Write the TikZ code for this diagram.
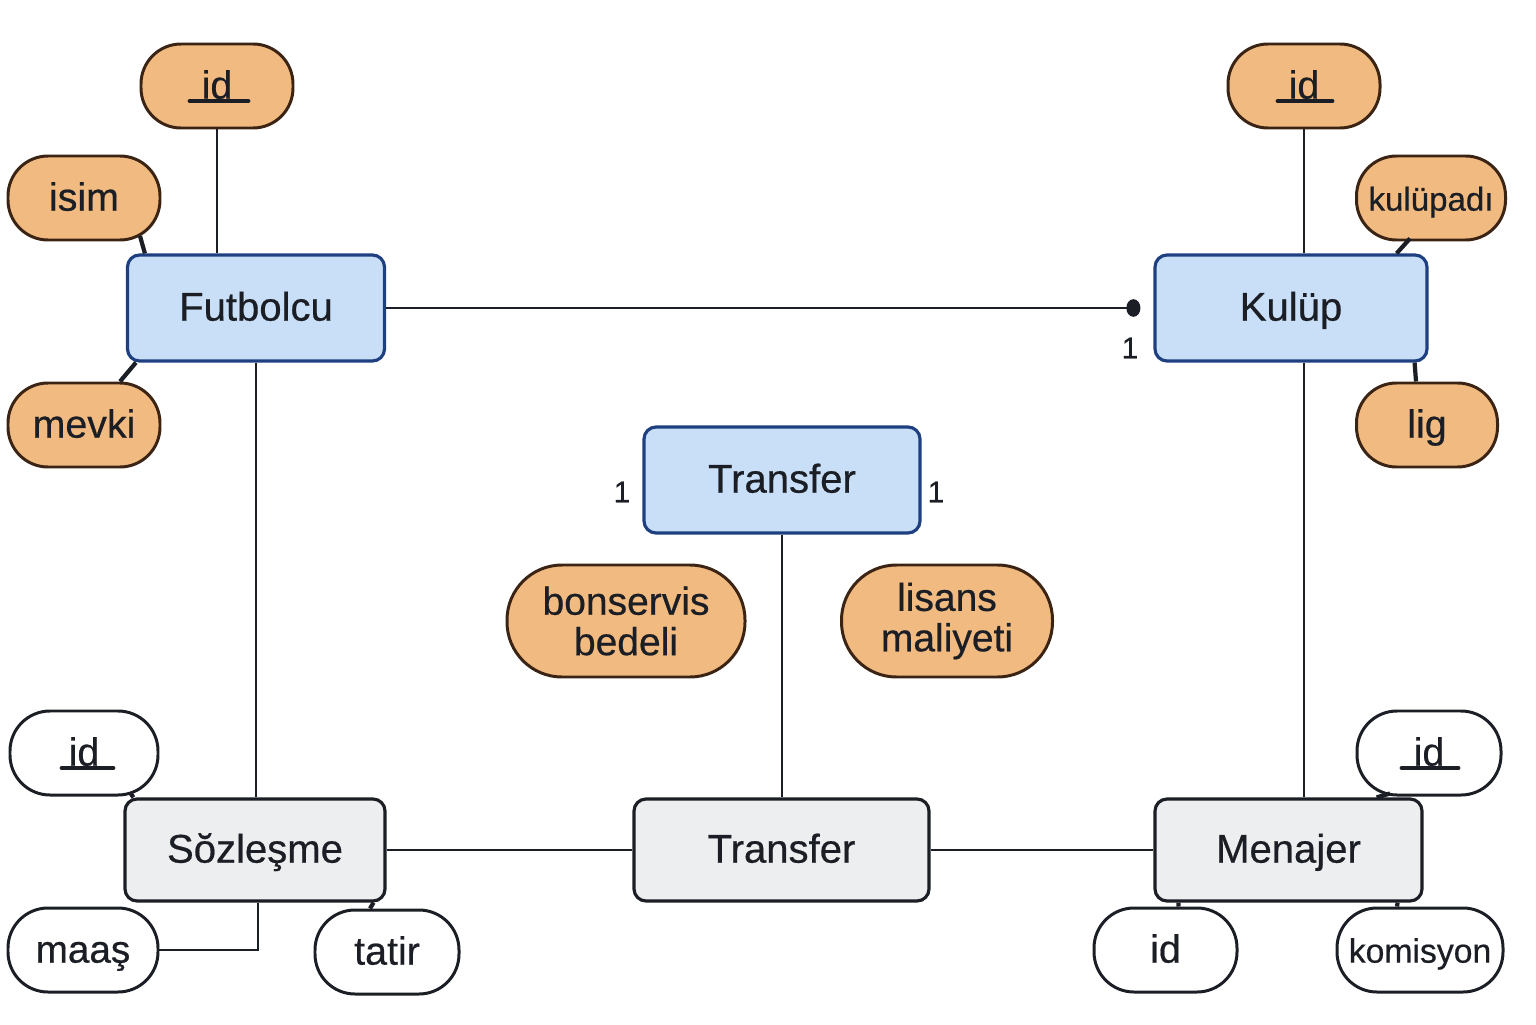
\documentclass[tikz,border=0pt]{standalone}
\usepackage{fontspec}
\setmainfont{Liberation Sans}[FakeBold=0.5]
\usetikzlibrary{arrows.meta}
\definecolor{attrfill}{HTML}{F0BA80}
\definecolor{attrdraw}{HTML}{3B2414}
\definecolor{entfill}{HTML}{C9DFF8}
\definecolor{entdraw}{HTML}{1F4080}
\definecolor{grayfill}{HTML}{EDEEF0}
\definecolor{inkcol}{HTML}{1B1E24}

\begin{document}
\begin{tikzpicture}[
  oneline/.style={text height=0.72em,text depth=0pt},
  entity/.style={draw=entdraw,fill=entfill,line width=0.9pt,rounded corners=0.12cm,minimum height=1.06cm,text=inkcol,oneline,font=\fontsize{11.4}{13}\selectfont},
  grayent/.style={draw=inkcol,fill=grayfill,line width=0.9pt,rounded corners=0.12cm,minimum height=1.02cm,text=inkcol,oneline,font=\fontsize{11.4}{13}\selectfont},
  attr/.style={draw=attrdraw,fill=attrfill,line width=0.85pt,rounded corners=0.4cm,inner sep=2pt,minimum width=1.52cm,minimum height=0.84cm,text=inkcol,oneline,font=\fontsize{11.2}{13}\selectfont},
  twoline/.style={text height=,text depth=,align=center,minimum height=1.12cm,rounded corners=0.55cm,font=\fontsize{11.1}{11.5}\selectfont},
  wattr/.style={attr,draw=inkcol,fill=white},
  link/.style={draw=inkcol,line width=0.7pt},
  stub/.style={draw=inkcol,line width=1.2pt},
  uline/.style={draw=inkcol,line width=1.4pt,line cap=round},
  card/.style={text=inkcol,font=\fontsize{8.5}{10}\selectfont}
]
  \useasboundingbox (0,0) rectangle (15.36,10.24);

  \node[entity,minimum width=2.57cm] (fut) at (2.56,7.16) {Futbolcu};
  \node[entity,minimum width=2.72cm] (kul) at (12.91,7.16) {Kulüp};
  \node[entity,minimum width=2.76cm] (trA) at (7.82,5.44) {Transfer};
  \node[grayent,minimum width=2.60cm] (soz) at (2.55,1.74) {Sŏzleşme};
  \node[grayent,minimum width=2.95cm] (trB) at (7.815,1.74) {Transfer};
  \node[grayent,minimum width=2.67cm] (men) at (12.885,1.74) {Menajer};

  \node[attr] (fid) at (2.17,9.38) {id};
  \node[attr] (isim) at (0.84,8.26) {isim};
  \node[attr] (mevki) at (0.84,5.99) {mevki};
  \node[attr] (kid) at (13.04,9.38) {id};
  \node[attr,minimum width=1.49cm,font=\fontsize{9.4}{11}\selectfont] (kadi) at (14.31,8.26) {kulüpadı};
  \node[attr,minimum width=1.41cm] (lig) at (14.27,5.99) {lig};
  \node[attr,twoline,minimum width=2.38cm] (bons) at (6.26,4.03) {bonservis\\bedeli};
  \node[attr,twoline,minimum width=2.11cm] (lis) at (9.47,4.03) {lisans\\maliyeti};

  \node[wattr,minimum width=1.48cm] (sid) at (0.84,2.71) {id};
  \node[wattr,minimum width=1.50cm,font=\fontsize{11}{13}\selectfont] (maas) at (0.83,0.74) {maaş};
  \node[wattr,minimum width=1.44cm] (tatir) at (3.87,0.72) {tatir};
  \node[wattr,minimum width=1.44cm] (mid) at (14.29,2.71) {id};
  \node[wattr,minimum width=1.43cm] (mid2) at (11.655,0.74) {id};
  \node[wattr,minimum width=1.66cm,inner sep=1pt,font=\fontsize{9.6}{11}\selectfont] (kom) at (14.20,0.74) {komisyon};

  \draw[uline] ([xshift=-0.27cm,yshift=-0.15cm]fid.center) -- ++(0.58,0);
  \draw[uline] ([xshift=-0.26cm,yshift=-0.15cm]kid.center) -- ++(0.54,0);
  \draw[uline] ([xshift=-0.22cm,yshift=-0.15cm]sid.center) -- ++(0.51,0);
  \draw[uline] ([xshift=-0.27cm,yshift=-0.15cm]mid.center) -- ++(0.56,0);

  \draw[link] (fid.south) -- (fid.south |- fut.north);
  \draw[link] (kid.south) -- (kid.south |- kul.north);
  \draw[link,-{Circle[length=4pt,width=5pt]}] (fut.east) -- ([xshift=-0.13cm]kul.west);
  \draw[link] (fut.south) -- (fut.south |- soz.north);
  \draw[link] (kid.south |- kul.south) -- (kid.south |- men.north);
  \draw[link] (trA.south) -- (trA.south |- trB.north);
  \draw[link] (soz.east) -- (trB.west);
  \draw[link] (trB.east) -- (men.west);
  \draw[link] (maas.east) -| ([xshift=0.03cm]soz.south);

  \draw[stub] ([xshift=0.56cm,yshift=-0.38cm]isim.center) -- ([xshift=0.19cm]fut.north west);
  \draw[stub] ([xshift=0.36cm]mevki.north) -- ([xshift=0.10cm]fut.south west);
  \draw[stub] ([xshift=-0.21cm,yshift=0.03cm]kadi.south) -- ([xshift=-0.32cm]kul.north east);
  \draw[stub] ([xshift=-0.14cm]kul.south east) -- ([xshift=-0.11cm]lig.north);
  \draw[stub] ([xshift=0.46cm,yshift=0.04cm]sid.south) -- ([xshift=0.10cm]soz.north west);
  \draw[stub] ([xshift=-0.13cm]soz.south east) -- ([xshift=-0.17cm]tatir.north);
  \draw[stub] ([xshift=-0.39cm,yshift=0.03cm]mid.south) -- ([xshift=-0.47cm]men.north east);
  \draw[stub] ([xshift=0.25cm]men.south west) -- ([xshift=0.13cm]mid2.north);
  \draw[stub] ([xshift=-0.26cm]men.south east) -- ([xshift=-0.23cm]kom.north);

  \node[card] (c1) at (11.30,6.76) {1};
  \node[card] (c2) at (6.22,5.32) {1};
  \node[card] (c3) at (9.36,5.32) {1};
\end{tikzpicture}
\end{document}
